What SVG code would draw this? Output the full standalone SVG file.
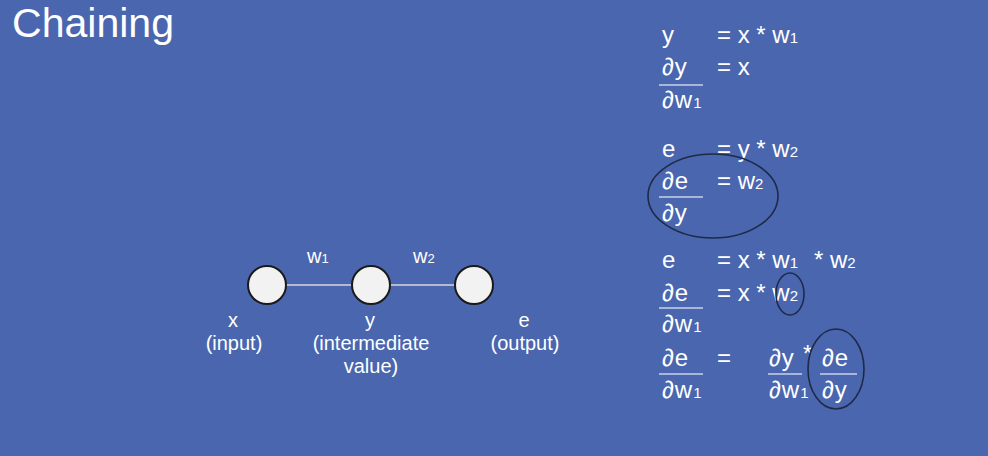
<svg xmlns="http://www.w3.org/2000/svg" width="988" height="456" viewBox="0 0 988 456">
<style>
text{font-family:"Liberation Sans",Arial,sans-serif;fill:#ffffff}
.eq{font-size:24px}
.d{font-size:24px;letter-spacing:1px}
.sub{font-size:15px;letter-spacing:0}
.lbl{font-size:20px;text-anchor:middle}
.bar{stroke:#c9d2ea;stroke-width:1.5}
.ring{fill:none;stroke:#1e2a48;stroke-width:1.6}
.node{fill:#f2f2f2;stroke:#1a1a1a;stroke-width:2}
.edge{stroke:#d9d9d9;stroke-width:1.5}
</style>
<rect width="988" height="456" fill="#4a66ae"/>
<text x="12" y="37" style="font-size:40px" textLength="162" lengthAdjust="spacingAndGlyphs">Chaining</text>

<g id="connectors">
<line class="edge" x1="286" y1="285" x2="352" y2="285"/>
<line class="edge" x1="390" y1="285" x2="455" y2="285"/>
<text x="307" y="263" style="font-size:20px">w<tspan style="font-size:13px">1</tspan></text>
<text x="413" y="263" style="font-size:20px">w<tspan style="font-size:13px">2</tspan></text>
</g>

<g id="node-x">
<circle class="node" cx="267" cy="285" r="19"/>
<text class="lbl" x="233" y="327">x</text>
<text class="lbl" x="234" y="350">(input)</text>
</g>
<g id="node-y">
<circle class="node" cx="371" cy="285" r="19"/>
<text class="lbl" x="370" y="327">y</text>
<text class="lbl" x="371" y="350">(intermediate</text>
<text class="lbl" x="371" y="373">value)</text>
</g>
<g id="node-e">
<circle class="node" cx="474" cy="285" r="19"/>
<text class="lbl" x="524" y="327">e</text>
<text class="lbl" x="525" y="350">(output)</text>
</g>

<g id="equations">
<text x="662" y="43" class="eq">y</text>
<text x="717" y="43" class="eq">= x * w<tspan class="sub">1</tspan></text>
<text x="662" y="75" class="d">∂y</text>
<text x="717" y="75" class="eq">= x</text>
<line class="bar" x1="659" y1="85" x2="703" y2="85"/>
<text x="662" y="108" class="d">∂w<tspan class="sub">1</tspan></text>

<text x="662" y="157" class="eq">e</text>
<text x="717" y="157" class="eq">= y * w<tspan class="sub">2</tspan></text>
<text x="662" y="189" class="d">∂e</text>
<text x="717" y="189" class="eq">= w<tspan class="sub">2</tspan></text>
<line class="bar" x1="659" y1="197" x2="703" y2="197"/>
<text x="662" y="221" class="d">∂y</text>
<ellipse class="ring" cx="713" cy="196" rx="65" ry="42"/>

<text x="662" y="268" class="eq">e</text>
<text x="717" y="268" class="eq">= x * w<tspan class="sub">1</tspan><tspan x="814">* w</tspan><tspan class="sub">2</tspan></text>
<text x="662" y="301" class="d">∂e</text>
<text x="717" y="301" class="eq">= x * w<tspan class="sub">2</tspan></text>
<line class="bar" x1="659" y1="308" x2="703" y2="308"/>
<text x="662" y="332" class="d">∂w<tspan class="sub">1</tspan></text>
<ellipse class="ring" cx="790" cy="294" rx="14" ry="21"/>

<text x="662" y="366" class="d">∂e</text>
<text x="717" y="366" class="eq">=</text>
<line class="bar" x1="659" y1="374" x2="703" y2="374"/>
<text x="662" y="398" class="d">∂w<tspan class="sub">1</tspan></text>
<text x="769" y="366" class="d">∂y</text>
<text x="803" y="362" class="eq">*</text>
<line class="bar" x1="768" y1="374" x2="802" y2="374"/>
<text x="769" y="398" class="d">∂w<tspan class="sub">1</tspan></text>
<text x="822" y="366" class="d">∂e</text>
<line class="bar" x1="820" y1="374" x2="857" y2="374"/>
<text x="822" y="398" class="d">∂y</text>
<ellipse class="ring" cx="836" cy="369" rx="28" ry="40"/>
</g>
</svg>
